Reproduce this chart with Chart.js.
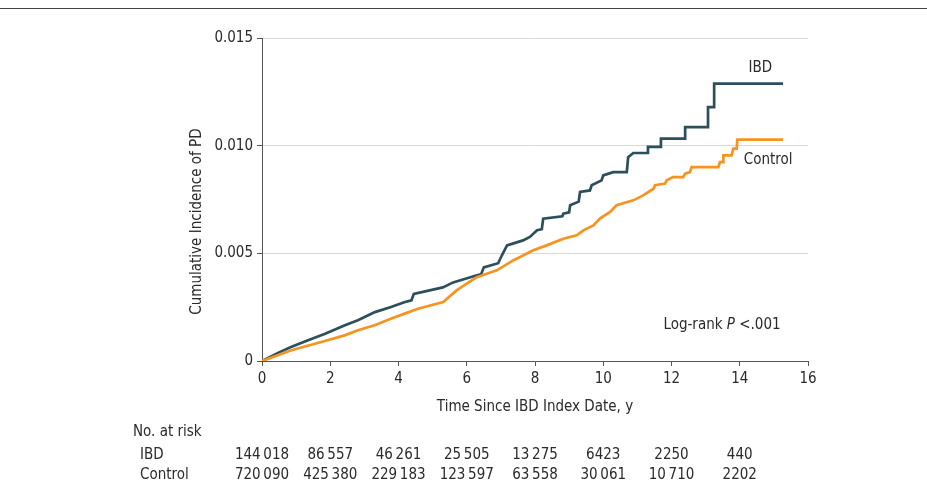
<!DOCTYPE html>
<html>
<head>
<meta charset="utf-8">
<script src="https://cdn.jsdelivr.net/npm/chart.js@4.4.1/dist/chart.umd.min.js"></script>
<style>
    html, body { margin: 0; padding: 0; background: #fff; }
    #wrap { position: relative; width: 927px; height: 499px; }
    #rule { position: absolute; left: 0; right: 0; top: 8px; border-top: 1px solid #444; }
    canvas { position: absolute; left: 0; top: 0; }
</style>
</head>
<body>
<div id="wrap">
    <div id="rule"></div>
    <canvas id="km" width="927" height="499"></canvas>
</div>
<script>
// görbék töréspontjai (év, kumulatív incidencia)
const ibdTime = [0, 0.5, 0.85, 1.35, 1.85, 2.43, 2.81, 3.31, 3.78, 4.19, 4.38, 4.45, 5.30, 5.60, 6.30,
    6.42, 6.50, 6.92, 7.03, 7.18, 7.65, 7.85, 8.06, 8.20, 8.24, 8.80, 8.83, 9.00, 9.03, 9.28,
    9.32, 9.61, 9.66, 9.95, 10.00, 10.29, 10.69, 10.73, 10.88, 11.31, 11.31, 11.69, 11.69, 12.40, 12.40,
    13.07, 13.07, 13.25, 13.25, 15.27];
const ibdCum = [0, 0.0004, 0.00065, 0.00096, 0.00127, 0.00166, 0.00189, 0.00227, 0.00251, 0.00274, 0.00282, 0.00312, 0.00342, 0.00365, 0.00398,
    0.00402, 0.00435, 0.00454, 0.00491, 0.00537, 0.0056, 0.00576, 0.00607, 0.00612, 0.00661, 0.00672, 0.00684, 0.0069, 0.00723, 0.0074,
    0.00785, 0.00792, 0.00816, 0.00839, 0.00862, 0.00877, 0.00877, 0.00947, 0.00966, 0.00966, 0.00994, 0.00994, 0.01033, 0.01033, 0.01086,
    0.01086, 0.01179, 0.01179, 0.01288, 0.01288];

const ctrlTime = [0, 0.86, 1.84, 2.42, 2.81, 3.30, 3.79, 4.18, 4.57, 5.31, 5.70, 6.29, 6.88, 7.36, 7.95,
    8.34, 8.83, 9.22, 9.42, 9.71, 9.90, 10.20, 10.39, 10.88, 11.17, 11.47, 11.52, 11.81, 11.86, 12.04,
    12.34, 12.40, 12.54, 12.59, 13.37, 13.42, 13.52, 13.52, 13.76, 13.81, 13.91, 13.93, 15.27];
const ctrlCum = [0, 0.0005, 0.00093, 0.00119, 0.00143, 0.00166, 0.00197, 0.0022, 0.00243, 0.00274, 0.00328, 0.00389, 0.00421, 0.00467, 0.00514,
    0.00537, 0.00568, 0.00584, 0.00607, 0.0063, 0.00661, 0.00692, 0.00723, 0.00746, 0.00769, 0.008, 0.00816, 0.00824, 0.00839, 0.00854,
    0.00854, 0.0087, 0.00877, 0.009, 0.009, 0.00924, 0.00924, 0.00955, 0.00955, 0.00986, 0.00986, 0.01028, 0.01028];

// kockázati táblázat
const riskTimes = [0, 2, 4, 6, 8, 10, 12, 14];
const ibdRisk = ['144\u2009018', '86\u2009557', '46\u2009261', '25\u2009505', '13\u2009275', '6423', '2250', '440'];
const ctrlRisk = ['720\u2009090', '425\u2009380', '229\u2009183', '123\u2009597', '63\u2009558', '30\u2009061', '10\u2009710', '2202'];

const FONT = '"Liberation Sans Narrow", "DejaVu Sans Condensed", Roboto, sans-serif';
const FS = 15;
const TEXT = '#2a2a2a';
const IBD_COLOR = '#2c4f5c';
const CTRL_COLOR = '#f7931e';

const toPoints = (xs, ys) => xs.map((x, i) => ({x, y: ys[i]}));

const annotate = {
    id: 'annotate',
    afterDraw(chart) {
        const {ctx, chartArea, scales: {x, y}} = chart;
        const plain = `${FS}px ${FONT}`;
        const italic = `italic ${FS}px ${FONT}`;
        ctx.save();
        ctx.fillStyle = TEXT;
        ctx.font = plain;
        ctx.textBaseline = 'middle';

        // y tengely címe
        ctx.save();
        ctx.translate(197, (chartArea.top + chartArea.bottom) / 2 + 22);
        ctx.rotate(-Math.PI / 2);
        ctx.textAlign = 'center';
        ctx.fillText('Cumulative Incidence of PD', 0, 0);
        ctx.restore();

        // görbe feliratok
        ctx.textAlign = 'center';
        ctx.fillText('IBD', x.getPixelForValue(14.6), y.getPixelForValue(0.01362));
        ctx.fillText('Control', x.getPixelForValue(14.83), y.getPixelForValue(0.00932));

        // log-rank
        const lx = x.getPixelForValue(13.48), ly = y.getPixelForValue(0.00166);
        const a = 'Log-rank ', b = 'P', c = ' <.001';
        const wa = ctx.measureText(a).width, wc = ctx.measureText(c).width;
        ctx.font = italic;
        const wb = ctx.measureText(b).width;
        const sx = lx - (wa + wb + wc) / 2;
        ctx.textAlign = 'left';
        ctx.fillText(b, sx + wa, ly);
        ctx.font = plain;
        ctx.fillText(a, sx, ly);
        ctx.fillText(c, sx + wa + wb, ly);

        // No. at risk
        const base = chartArea.bottom;
        ctx.fillText('No. at risk', 133, base + 71);
        ctx.fillText('IBD', 140, base + 94);
        ctx.fillText('Control', 140, base + 114);
        ctx.textAlign = 'center';
        riskTimes.forEach((t, i) => {
            const px = x.getPixelForValue(t);
            ctx.fillText(ibdRisk[i], px, base + 94);
            ctx.fillText(ctrlRisk[i], px, base + 114);
        });
        ctx.restore();
    }
};

Chart.defaults.font.family = FONT;
Chart.defaults.font.size = FS;
Chart.defaults.color = TEXT;

new Chart(document.getElementById('km'), {
    type: 'line',
    data: {
        datasets: [
            {
                label: 'Control',
                data: toPoints(ctrlTime, ctrlCum),
                borderColor: CTRL_COLOR,
                borderWidth: 2.7,
                pointRadius: 0,
                tension: 0
            },
            {
                label: 'IBD',
                data: toPoints(ibdTime, ibdCum),
                borderColor: IBD_COLOR,
                borderWidth: 2.7,
                pointRadius: 0,
                tension: 0
            }
        ]
    },
    options: {
        responsive: false,
        animation: false,
        events: [],
        layout: {padding: {left: 186, top: 38, right: 119, bottom: 78}},
        plugins: {legend: {display: false}, tooltip: {enabled: false}},
        scales: {
            x: {
                type: 'linear',
                min: 0,
                max: 16,
                afterFit: (s) => { s.height = 60; },
                ticks: {stepSize: 2, padding: 4, maxRotation: 0},
                grid: {drawOnChartArea: false, tickLength: 5, tickColor: '#555'},
                border: {color: '#555', width: 1},
                title: {display: true, text: 'Time Since IBD Index Date, y', padding: {top: 0, bottom: 5}}
            },
            y: {
                min: 0,
                max: 0.015,
                afterFit: (s) => { s.width = 76; },
                ticks: {
                    stepSize: 0.005,
                    padding: 4,
                    callback: (v) => v === 0 ? '0' : v.toFixed(3)
                },
                grid: {color: '#d9d9d9', tickLength: 5, tickColor: '#555'},
                border: {color: '#555', width: 1}
            }
        }
    },
    plugins: [annotate]
});
</script>
</body>
</html>
